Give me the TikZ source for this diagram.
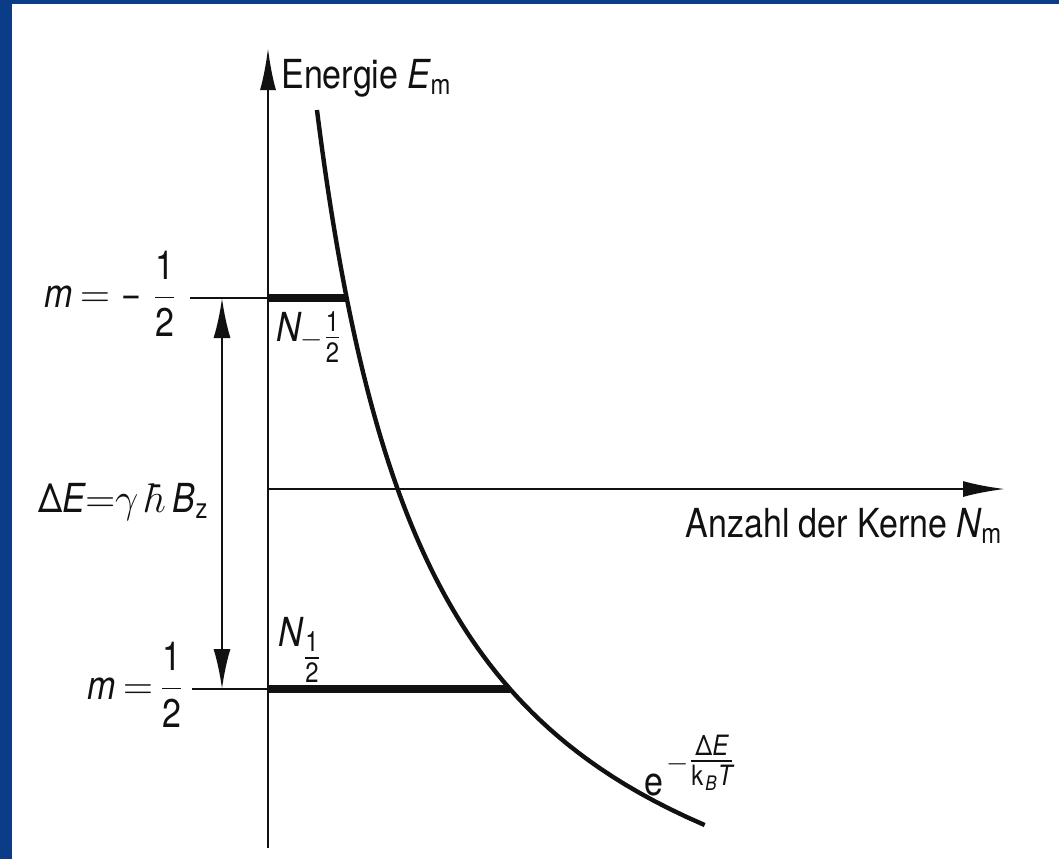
\documentclass[tikz,border=0pt]{standalone}
\usepackage{amsmath}
\usepackage{fontspec}
\setmainfont[FakeStretch=0.85]{TeX Gyre Heros}
\usepackage{xcolor}
\usepackage{tikz}
\usetikzlibrary{
  arrows.meta,
  positioning,
  calc
}
\definecolor{SlideBlue}{HTML}{0A3C88}
\definecolor{InkBlack}{HTML}{111111}
\newcommand{\half}{\dfrac{\text{1}}{\text{2}}}
\newcommand{\subhalf}{\tfrac{\text{1}}{\text{2}}}
\tikzset{
  axis/.style={
    -{Latex[length=21pt,width=8pt]},
    line width=1.3pt,
    draw=InkBlack
  },
  level/.style={
    line width=1pt,
    draw=InkBlack
  },
  population/.style={
    line width=4pt,
    draw=InkBlack
  },
  boltzmann/.style={
    line width=2.2pt,
    draw=InkBlack
  },
  splitting/.style={
    {Latex[length=20pt,width=8.5pt]}-{Latex[length=20pt,width=8.5pt]},
    line width=1.2pt,
    draw=InkBlack
  },
  marker/.style={
    inner sep=0pt,
    text=InkBlack,
    font=\fontsize{20}{24}\selectfont
  }
}

\begin{document}
\begin{tikzpicture}[x=0.5pt, y=-0.5pt]

  \useasboundingbox (0,0) rectangle (1059,859);
  \fill[SlideBlue] (0,0) rectangle (1059,859);
  \fill[white] (12,4) rectangle (1059,859);

  % axes
  \coordinate (ybottom) at (268,848);
  \coordinate (ytop) at (268,48);
  \coordinate (origin) at (268,489);
  \coordinate (xtip) at (1005,489);

  \draw[axis] (ybottom) -- (ytop);
  \draw[axis] (origin) -- (xtip);

  % levels
  \coordinate (upperstart) at (190,298);
  \coordinate (upper) at (268,298);
  \coordinate (upperhit) at (347,298);
  \coordinate (lowerstart) at (192,689);
  \coordinate (lower) at (268,689);
  \coordinate (lowerhit) at (510,689);

  \draw[level] (upperstart) -- (upper);
  \draw[level] (lowerstart) -- (lower);
  \draw[population] (upper) -- (upperhit);
  \draw[population] (lower) -- (lowerhit);

  \coordinate (gaptop) at (222,298);
  \coordinate (gapbottom) at (222,689);
  \draw[splitting] (gaptop) -- (gapbottom);

  \draw[boltzmann]
  plot[domain=110:825, samples=90, variable=\t]
  ({199.3+1096.63/((1042-\t)/100)}, \t);

  % labels
  \node[
    marker,
    anchor=base west
  ] (energylabel) at (281,88) {
    Energie $\textit{E}_\mathrm{m}$
  };

  \node[
    marker,
    anchor=base east
  ] (countlabel) at (1006,537) {
    Anzahl der Kerne $\textit{N}_\mathrm{m}$
  };

  \node[
    marker,
    anchor=east
  ] (upperlabel) at (177,294) {
    $\textit{m}\,{=}\;\text{−}\;\half$
  };

  \node[
    marker,
    anchor=east
  ] (lowerlabel) at (184,685) {
    $\textit{m}\,{=}\,\half$
  };

  \node[
    marker,
    anchor=north west
  ] (upperpop) at (276,312) {
    $\textit{N}_{\smash[t]{{-}\subhalf}}$
  };

  \node[
    marker,
    anchor=south west
  ] (lowerpop) at (278,683) {
    $\textit{N}_{\subhalf}$
  };

  \node[
    marker,
    anchor=base east
  ] (gaplabel) at (211,512) {
    $\text{Δ}\textit{E}{=}\gamma\;\hbar\,\textit{B}_\mathrm{z}$
  };

  \node[
    marker,
    anchor=base west
  ] (boltzlabel) at (644,795) {
    $\mathrm{e}^{-\tfrac{\text{Δ}\textit{E}}{\mathrm{k}_\textit{B}\textit{T}}}$
  };

\end{tikzpicture}
\end{document}
